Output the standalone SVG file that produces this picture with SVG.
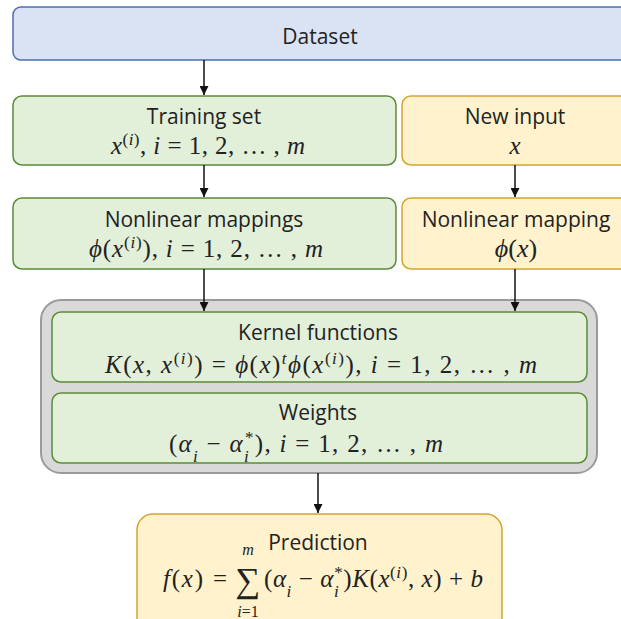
<svg xmlns="http://www.w3.org/2000/svg" width="621" height="619" viewBox="0 0 621 619">
<style>
.blue{fill:#dae3f3;stroke:#4a6fb0;stroke-width:1.5}
.green{fill:#e2efd9;stroke:#5b8c3a;stroke-width:1.5}
.yellow{fill:#fff2cc;stroke:#d4a52c;stroke-width:1.5}
.gray{fill:#d9d9d9;stroke:#9a9a9a;stroke-width:2}
.lbl{font-family:"Open Sans","Liberation Sans",sans-serif;font-size:21px;fill:#222;text-anchor:middle}
.math{font-family:"Liberation Serif","DejaVu Serif",serif;font-size:25px;fill:#222}
.c{text-anchor:middle}
.it{font-style:italic}
.sup{font-size:17px;baseline-shift:super}
.sub{font-size:17px;baseline-shift:sub}
.conn line{stroke:#111;stroke-width:1.5}
</style>
<defs>
<marker id="ah" viewBox="0 0 10 10" refX="10" refY="5" markerWidth="9" markerHeight="9" markerUnits="userSpaceOnUse" orient="auto">
<path d="M0,0L10,5L0,10Z" fill="#111"/>
</marker>
</defs>
<rect width="621" height="619" fill="#fff"/>

<g id="dataset">
<rect class="blue" x="13" y="7" width="630" height="53" rx="8"/>
<text class="lbl" x="320" y="44">Dataset</text>
</g>

<g id="training">
<rect class="green" x="13" y="96" width="383" height="69" rx="9"/>
<text class="lbl" x="204" y="124">Training set</text>
<text class="math" x="111" y="154" textLength="194" lengthAdjust="spacing"><tspan class="it">x</tspan><tspan class="sup">(<tspan class="it">i</tspan>)</tspan>,  <tspan class="it">i</tspan> = 1, 2, … , <tspan class="it">m</tspan></text>
</g>

<g id="newinput">
<rect class="yellow" x="402" y="96" width="240" height="69" rx="9"/>
<text class="lbl" x="515" y="124">New input</text>
<text class="math it c" x="515" y="154">x</text>
</g>

<g id="mappings">
<rect class="green" x="13" y="198" width="383" height="71" rx="9"/>
<text class="lbl" x="204" y="227">Nonlinear mappings</text>
<text class="math" x="89" y="257" textLength="234" lengthAdjust="spacing"><tspan class="it">ϕ</tspan>(<tspan class="it">x</tspan><tspan class="sup">(<tspan class="it">i</tspan>)</tspan>),  <tspan class="it">i</tspan> = 1, 2, … , <tspan class="it">m</tspan></text>
</g>

<g id="mapping">
<rect class="yellow" x="402" y="198" width="240" height="71" rx="9"/>
<text class="lbl" x="516" y="227">Nonlinear mapping</text>
<text class="math c" x="516" y="257" style="font-size:26px"><tspan class="it">ϕ</tspan>(<tspan class="it">x</tspan>)</text>
</g>

<g id="model">
<rect class="gray" x="41" y="300" width="556" height="173" rx="20"/>
<g id="kernel">
<rect class="green" x="52" y="312" width="535" height="70" rx="9"/>
<text class="lbl" x="318" y="340">Kernel functions</text>
<text class="math" x="105" y="373" textLength="432" lengthAdjust="spacing"><tspan class="it">K</tspan>(<tspan class="it">x</tspan>, <tspan class="it">x</tspan><tspan class="sup">(<tspan class="it">i</tspan>)</tspan>) = <tspan class="it">ϕ</tspan>(<tspan class="it">x</tspan>)<tspan class="sup it">t</tspan><tspan class="it">ϕ</tspan>(<tspan class="it">x</tspan><tspan class="sup">(<tspan class="it">i</tspan>)</tspan>),  <tspan class="it">i</tspan> = 1, 2, … , <tspan class="it">m</tspan></text>
</g>
<g id="weights">
<rect class="green" x="52" y="393" width="535" height="70" rx="9"/>
<text class="lbl" x="318" y="420">Weights</text>
<text class="math" x="169" y="452" textLength="274" lengthAdjust="spacing">(<tspan class="it">α</tspan><tspan class="sub it">i</tspan> − <tspan class="it">α</tspan><tspan class="sub it">i</tspan><tspan class="sup" dx="-5">*</tspan>),  <tspan class="it">i</tspan> = 1, 2, … , <tspan class="it">m</tspan></text>
</g>
</g>

<g id="prediction">
<rect class="yellow" x="137" y="514" width="365" height="120" rx="16"/>
<text class="lbl" x="318" y="550">Prediction</text>
<text class="math" x="163" y="587" textLength="64" lengthAdjust="spacing"><tspan class="it">f</tspan>(<tspan class="it">x</tspan>) =</text>
<text class="math c" x="248" y="592" style="font-size:35px">∑</text>
<text class="math it c" x="248" y="555" style="font-size:16px">m</text>
<text class="math c" x="248" y="617" style="font-size:16px"><tspan class="it">i</tspan>=1</text>
<text class="math" x="264" y="587" textLength="219" lengthAdjust="spacing">(<tspan class="it">α</tspan><tspan class="sub it">i</tspan> − <tspan class="it">α</tspan><tspan class="sub it">i</tspan><tspan class="sup" dx="-5">*</tspan>)<tspan class="it">K</tspan>(<tspan class="it">x</tspan><tspan class="sup">(<tspan class="it">i</tspan>)</tspan>, <tspan class="it">x</tspan>) + <tspan class="it">b</tspan></text>
</g>

<g class="conn" id="connectors">
<line x1="204" y1="60" x2="204" y2="95" marker-end="url(#ah)"/>
<line x1="204" y1="165" x2="204" y2="197" marker-end="url(#ah)"/>
<line x1="515" y1="165" x2="515" y2="197" marker-end="url(#ah)"/>
<line x1="204" y1="269" x2="204" y2="311" marker-end="url(#ah)"/>
<line x1="515" y1="269" x2="515" y2="311" marker-end="url(#ah)"/>
<line x1="318" y1="473" x2="318" y2="513" marker-end="url(#ah)"/>
</g>
</svg>
